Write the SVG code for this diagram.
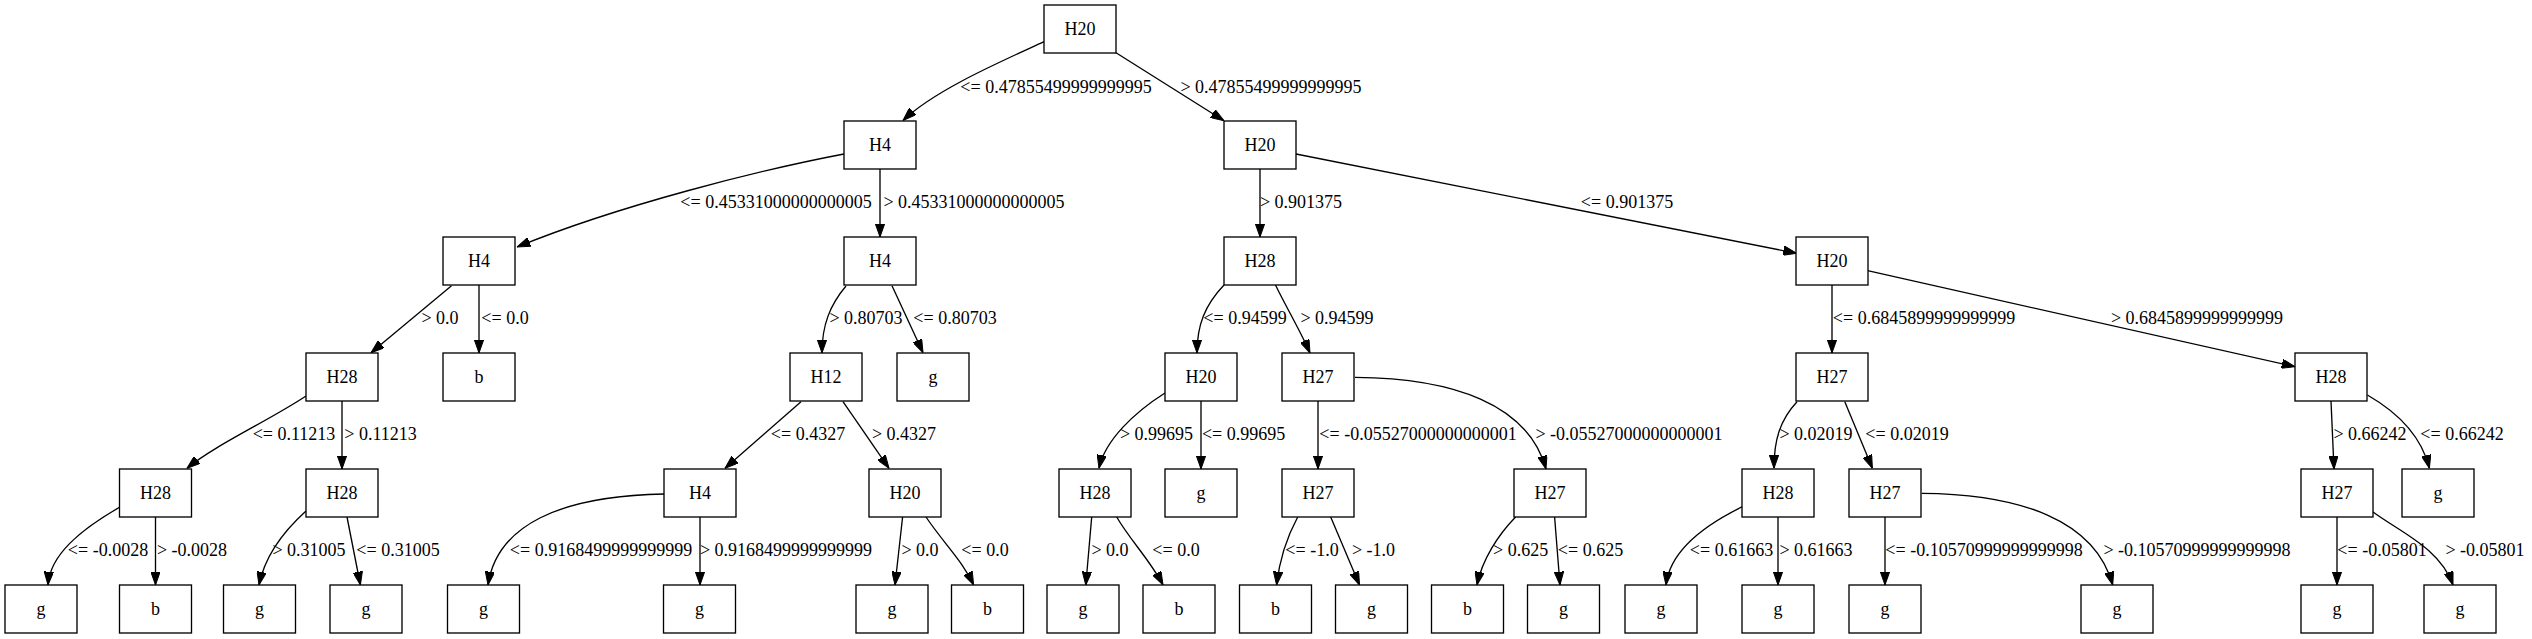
<svg xmlns="http://www.w3.org/2000/svg" width="2532" height="639" viewBox="0 0 2532 639">
<style>
.nd rect{fill:#fff;stroke:#000;stroke-width:1.33}
.nd text{font-family:"Liberation Serif","Times New Roman",serif;font-size:18px;text-anchor:middle;fill:#000}
.ed path{fill:none;stroke:#000;stroke-width:1.33;marker-end:url(#ah)}
.ed text{font-family:"Liberation Serif","Times New Roman",serif;font-size:18px;text-anchor:middle;fill:#000}
</style>
<defs>
<marker id="ah" markerUnits="userSpaceOnUse" markerWidth="13.3" markerHeight="9.4" viewBox="0 0 13.3 9.4" refX="13.3" refY="4.7" orient="auto">
<path d="M0,0 L13.3,4.7 L0,9.4 z" fill="#000" stroke="#000" stroke-width="1"/>
</marker>
</defs>
<rect width="2532" height="639" fill="#fff"/>
<g id="edges" class="ed">
<g id="e0"><path d="M1044,41.7 C1000,62 935,90 903,120.5"/><text x="1056" y="92.7">&lt;= 0.47855499999999995</text></g>
<g id="e1"><path d="M1116,52.7 L1224,120.7"/><text x="1271" y="92.7">&gt; 0.47855499999999995</text></g>
<g id="e2"><path d="M844,154 C760,170 620,205 517,247"/><text x="776" y="208">&lt;= 0.45331000000000005</text></g>
<g id="e3"><path d="M880,169 L880,237"/><text x="974" y="208">&gt; 0.45331000000000005</text></g>
<g id="e4"><path d="M1260,169 L1260,237"/><text x="1301" y="208">&gt; 0.901375</text></g>
<g id="e5"><path d="M1296,154 L1796.7,253.3"/><text x="1627" y="208">&lt;= 0.901375</text></g>
<g id="e6"><path d="M451.5,285.7 L371,352.7"/><text x="440" y="324">&gt; 0.0</text></g>
<g id="e7"><path d="M479,285 L479,353"/><text x="505" y="324">&lt;= 0.0</text></g>
<g id="e8"><path d="M846,286 C830,305 822,325 822,353"/><text x="866" y="324">&gt; 0.80703</text></g>
<g id="e9"><path d="M892,285.7 L923,352.7"/><text x="955" y="324">&lt;= 0.80703</text></g>
<g id="e10"><path d="M1224,285 C1205,305 1197,325 1197,353"/><text x="1245" y="324">&lt;= 0.94599</text></g>
<g id="e11"><path d="M1275.5,285 C1285,305 1300,330 1310,353"/><text x="1337" y="324">&gt; 0.94599</text></g>
<g id="e12"><path d="M1832,285 L1832,353"/><text x="1924" y="324">&lt;= 0.6845899999999999</text></g>
<g id="e13"><path d="M1867.6,270.7 L2295,366.7"/><text x="2197" y="324">&gt; 0.6845899999999999</text></g>
<g id="e14"><path d="M306,396 C270,420 215,445 187,468.3"/><text x="294" y="440">&lt;= 0.11213</text></g>
<g id="e15"><path d="M342,401 L342,469"/><text x="380.5" y="440">&gt; 0.11213</text></g>
<g id="e16"><path d="M801,401.7 L725,468.3"/><text x="808" y="440">&lt;= 0.4327</text></g>
<g id="e17"><path d="M843,401.7 L889,468.3"/><text x="904" y="440">&gt; 0.4327</text></g>
<g id="e18"><path d="M1165,393 C1135,412 1105,440 1099,468.3"/><text x="1156.5" y="440">&gt; 0.99695</text></g>
<g id="e19"><path d="M1201,401 L1201,469"/><text x="1243.6" y="440">&lt;= 0.99695</text></g>
<g id="e20"><path d="M1318,401 L1318,469"/><text x="1418" y="440">&lt;= -0.05527000000000001</text></g>
<g id="e21"><path d="M1355,377.3 C1453,378 1528,404 1546,469"/><text x="1629" y="440">&gt; -0.05527000000000001</text></g>
<g id="e22"><path d="M1797,401.7 C1780,420 1774,440 1774,468.3"/><text x="1816" y="440">&gt; 0.02019</text></g>
<g id="e23"><path d="M1844.8,401.7 L1872.4,468.3"/><text x="1907" y="440">&lt;= 0.02019</text></g>
<g id="e24"><path d="M2331,401 L2334,469"/><text x="2370" y="440">&gt; 0.66242</text></g>
<g id="e25"><path d="M2367.4,395 C2390,408 2420,430 2429.4,468.3"/><text x="2462" y="440">&lt;= 0.66242</text></g>
<g id="e26"><path d="M120,507 C80,530 50,555 48,585"/><text x="108" y="555.5">&lt;= -0.0028</text></g>
<g id="e27"><path d="M155.5,517 L155.5,585"/><text x="192" y="555.5">&gt; -0.0028</text></g>
<g id="e28"><path d="M306,511 C285,530 265,555 259,585"/><text x="309" y="555.5">&gt; 0.31005</text></g>
<g id="e29"><path d="M347,517 L360.4,585"/><text x="398" y="555.5">&lt;= 0.31005</text></g>
<g id="e30"><path d="M664,494 C560,496 497,525 488,585"/><text x="601" y="555.5">&lt;= 0.9168499999999999</text></g>
<g id="e31"><path d="M700,517 L700,585"/><text x="786" y="555.5">&gt; 0.9168499999999999</text></g>
<g id="e32"><path d="M902.6,517 L895,585"/><text x="920" y="555.5">&gt; 0.0</text></g>
<g id="e33"><path d="M926,517 C945,545 962,560 973.6,585"/><text x="985" y="555.5">&lt;= 0.0</text></g>
<g id="e34"><path d="M1091.7,517 L1085.8,585"/><text x="1110" y="555.5">&gt; 0.0</text></g>
<g id="e35"><path d="M1116.7,517 C1130,540 1150,560 1163,585"/><text x="1176" y="555.5">&lt;= 0.0</text></g>
<g id="e36"><path d="M1297.7,517 C1288,535 1280,555 1276.6,585"/><text x="1312" y="555.5">&lt;= -1.0</text></g>
<g id="e37"><path d="M1330.7,517 L1359.5,585"/><text x="1373.5" y="555.5">&gt; -1.0</text></g>
<g id="e38"><path d="M1515.6,517 C1498,535 1482,560 1477,585"/><text x="1520.6" y="555.5">&gt; 0.625</text></g>
<g id="e39"><path d="M1554.6,517 L1560,585"/><text x="1590.5" y="555.5">&lt;= 0.625</text></g>
<g id="e40"><path d="M1742.4,506.7 C1705,525 1670,550 1666,585"/><text x="1731.5" y="555.5">&lt;= 0.61663</text></g>
<g id="e41"><path d="M1778,517 L1778,585"/><text x="1816" y="555.5">&gt; 0.61663</text></g>
<g id="e42"><path d="M1885,517 L1885,585"/><text x="1984" y="555.5">&lt;= -0.10570999999999998</text></g>
<g id="e43"><path d="M1921.7,493.3 C2020,494 2095,520 2112.7,585"/><text x="2197" y="555.5">&gt; -0.10570999999999998</text></g>
<g id="e44"><path d="M2337,517 L2337,585"/><text x="2382" y="555.5">&lt;= -0.05801</text></g>
<g id="e45"><path d="M2372.7,511.7 C2400,532 2440,548 2453,585"/><text x="2485" y="555.5">&gt; -0.05801</text></g>
</g>
<g id="nodes" class="nd">
<g id="n0"><rect x="1044" y="5" width="72" height="48"/><text x="1080" y="35">H20</text></g>
<g id="n1"><rect x="844" y="121" width="72" height="48"/><text x="880" y="151">H4</text></g>
<g id="n2"><rect x="1224" y="121" width="72" height="48"/><text x="1260" y="151">H20</text></g>
<g id="n3"><rect x="443" y="237" width="72" height="48"/><text x="479" y="267">H4</text></g>
<g id="n4"><rect x="844" y="237" width="72" height="48"/><text x="880" y="267">H4</text></g>
<g id="n5"><rect x="1224" y="237" width="72" height="48"/><text x="1260" y="267">H28</text></g>
<g id="n6"><rect x="1796" y="237" width="72" height="48"/><text x="1832" y="267">H20</text></g>
<g id="n7"><rect x="306" y="353" width="72" height="48"/><text x="342" y="383">H28</text></g>
<g id="n8"><rect x="443" y="353" width="72" height="48"/><text x="479" y="383">b</text></g>
<g id="n9"><rect x="790" y="353" width="72" height="48"/><text x="826" y="383">H12</text></g>
<g id="n10"><rect x="897" y="353" width="72" height="48"/><text x="933" y="383">g</text></g>
<g id="n11"><rect x="1165" y="353" width="72" height="48"/><text x="1201" y="383">H20</text></g>
<g id="n12"><rect x="1282" y="353" width="72" height="48"/><text x="1318" y="383">H27</text></g>
<g id="n13"><rect x="1796" y="353" width="72" height="48"/><text x="1832" y="383">H27</text></g>
<g id="n14"><rect x="2295" y="353" width="72" height="48"/><text x="2331" y="383">H28</text></g>
<g id="n15"><rect x="119.5" y="469" width="72" height="48"/><text x="155.5" y="499">H28</text></g>
<g id="n16"><rect x="306" y="469" width="72" height="48"/><text x="342" y="499">H28</text></g>
<g id="n17"><rect x="664" y="469" width="72" height="48"/><text x="700" y="499">H4</text></g>
<g id="n18"><rect x="869" y="469" width="72" height="48"/><text x="905" y="499">H20</text></g>
<g id="n19"><rect x="1059" y="469" width="72" height="48"/><text x="1095" y="499">H28</text></g>
<g id="n20"><rect x="1165" y="469" width="72" height="48"/><text x="1201" y="499">g</text></g>
<g id="n21"><rect x="1282" y="469" width="72" height="48"/><text x="1318" y="499">H27</text></g>
<g id="n22"><rect x="1514" y="469" width="72" height="48"/><text x="1550" y="499">H27</text></g>
<g id="n23"><rect x="1742" y="469" width="72" height="48"/><text x="1778" y="499">H28</text></g>
<g id="n24"><rect x="1849" y="469" width="72" height="48"/><text x="1885" y="499">H27</text></g>
<g id="n25"><rect x="2301" y="469" width="72" height="48"/><text x="2337" y="499">H27</text></g>
<g id="n26"><rect x="2402" y="469" width="72" height="48"/><text x="2438" y="499">g</text></g>
<g id="n27"><rect x="5" y="585" width="72" height="48"/><text x="41" y="615">g</text></g>
<g id="n28"><rect x="119.5" y="585" width="72" height="48"/><text x="155.5" y="615">b</text></g>
<g id="n29"><rect x="223.5" y="585" width="72" height="48"/><text x="259.5" y="615">g</text></g>
<g id="n30"><rect x="330" y="585" width="72" height="48"/><text x="366" y="615">g</text></g>
<g id="n31"><rect x="447.5" y="585" width="72" height="48"/><text x="483.5" y="615">g</text></g>
<g id="n32"><rect x="663.5" y="585" width="72" height="48"/><text x="699.5" y="615">g</text></g>
<g id="n33"><rect x="856" y="585" width="72" height="48"/><text x="892" y="615">g</text></g>
<g id="n34"><rect x="951.5" y="585" width="72" height="48"/><text x="987.5" y="615">b</text></g>
<g id="n35"><rect x="1047" y="585" width="72" height="48"/><text x="1083" y="615">g</text></g>
<g id="n36"><rect x="1143" y="585" width="72" height="48"/><text x="1179" y="615">b</text></g>
<g id="n37"><rect x="1239.5" y="585" width="72" height="48"/><text x="1275.5" y="615">b</text></g>
<g id="n38"><rect x="1335.5" y="585" width="72" height="48"/><text x="1371.5" y="615">g</text></g>
<g id="n39"><rect x="1431.5" y="585" width="72" height="48"/><text x="1467.5" y="615">b</text></g>
<g id="n40"><rect x="1527.5" y="585" width="72" height="48"/><text x="1563.5" y="615">g</text></g>
<g id="n41"><rect x="1625" y="585" width="72" height="48"/><text x="1661" y="615">g</text></g>
<g id="n42"><rect x="1742" y="585" width="72" height="48"/><text x="1778" y="615">g</text></g>
<g id="n43"><rect x="1849" y="585" width="72" height="48"/><text x="1885" y="615">g</text></g>
<g id="n44"><rect x="2081" y="585" width="72" height="48"/><text x="2117" y="615">g</text></g>
<g id="n45"><rect x="2301" y="585" width="72" height="48"/><text x="2337" y="615">g</text></g>
<g id="n46"><rect x="2424" y="585" width="72" height="48"/><text x="2460" y="615">g</text></g>
</g>
</svg>
